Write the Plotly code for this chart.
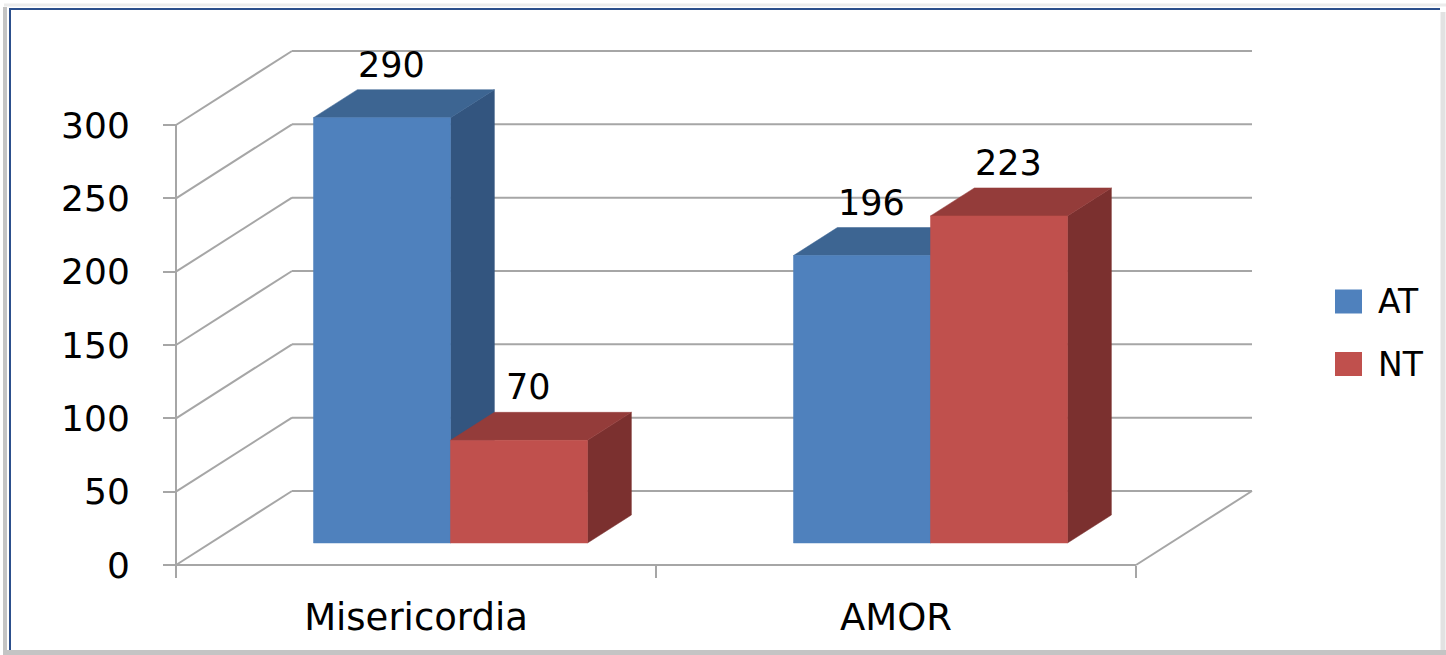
import plotly.graph_objects as go

# ---------------- data ----------------
categories = ["Misericordia", "AMOR"]
series_names = ["AT", "NT"]
values_at = [290, 196]
values_nt = [70, 223]
y_tick_values = [0, 50, 100, 150, 200, 250, 300]

# ---------------- styling / geometry ----------------
W, H = 1446, 655
S = 440 / 300            # px per value unit
ZERO_PX = 565            # screen y of value 0 on the front plane
X_FRONT = 176            # screen x of the front value axis
CAT_W = 480              # width of one category on the front plane
WALL_DX = 116            # horizontal depth offset of the walls (px)
WALL_DY = 74 / S         # vertical depth offset of the walls (value units)
D_FRONT = 22 / 74        # bar front plane depth (fraction)
D_BACK = 50 / 74         # bar back plane depth (fraction)
BAR_W = 137
LABEL_DX = 10
FONT = "DejaVu Sans"
GRID = "#a6a6a6"

FRONT = {"AT": "#4f81bd", "NT": "#c0504d"}
TOP = {"AT": "#3d6592", "NT": "#943c3a"}
SIDE = {"AT": "#33557f", "NT": "#7b302f"}

M_L, M_R = 160, W - 1272
M_T, M_B = 28, H - 582
PW, PH = W - M_L - M_R, H - M_T - M_B
x_range = [M_L, W - M_R]
y_range = [-(H - M_B - ZERO_PX) / S, (ZERO_PX - M_T) / S]


def px_x(px):
    return (px - M_L) / PW


def px_y(py):
    return (H - M_B - py) / PH


series_values = {"AT": values_at, "NT": values_nt}

fig = go.Figure()
annotations = []

ox = (D_BACK - D_FRONT) * WALL_DX
oy = (D_BACK - D_FRONT) * WALL_DY
base = D_FRONT * WALL_DY

for i, cat in enumerate(categories):
    cx = X_FRONT + i * CAT_W + CAT_W / 2 + D_FRONT * WALL_DX
    for j, name in enumerate(series_names):
        v = series_values[name][i]
        xl = cx - BAR_W + j * BAR_W
        xr = xl + BAR_W
        top = base + v
        faces = [
            ([xr, xr + ox, xr + ox, xr, xr], [base, base + oy, top + oy, top, base], SIDE[name]),
            ([xl, xr, xr + ox, xl + ox, xl], [top, top, top + oy, top + oy, top], TOP[name]),
            ([xl, xr, xr, xl, xl], [base, base, top, top, base], FRONT[name]),
        ]
        for fx, fy, col in faces:
            fig.add_trace(go.Scatter(
                x=fx, y=fy, mode="lines", fill="toself", fillcolor=col,
                line=dict(width=0.5, color=col), hoverinfo="skip",
                showlegend=False, name=name,
            ))
        annotations.append(dict(
            x=(xl + xr) / 2 + LABEL_DX, y=top + oy, xref="x", yref="y",
            text=str(v), showarrow=False, yanchor="middle", yshift=25,
            font=dict(family=FONT, size=35, color="black"),
        ))

# ---------------- walls / floor ----------------
shapes = []
x_right_front = X_FRONT + len(categories) * CAT_W
for t in y_tick_values:
    shapes.append(dict(type="line", xref="x", yref="y", layer="below",
                       x0=X_FRONT, y0=t, x1=X_FRONT + WALL_DX, y1=t + WALL_DY,
                       line=dict(color=GRID, width=2)))
    shapes.append(dict(type="line", xref="x", yref="y", layer="below",
                       x0=X_FRONT + WALL_DX, y0=t + WALL_DY,
                       x1=x_right_front + WALL_DX, y1=t + WALL_DY,
                       line=dict(color=GRID, width=2)))
shapes.append(dict(type="line", xref="x", yref="y", layer="below",
                   x0=X_FRONT, y0=0, x1=X_FRONT, y1=y_tick_values[-1],
                   line=dict(color=GRID, width=2)))
shapes.append(dict(type="line", xref="x", yref="y", layer="below",
                   x0=X_FRONT, y0=0, x1=x_right_front, y1=0,
                   line=dict(color=GRID, width=2)))
shapes.append(dict(type="line", xref="x", yref="y", layer="below",
                   x0=x_right_front, y0=0, x1=x_right_front + WALL_DX, y1=WALL_DY,
                   line=dict(color=GRID, width=2)))

# ---------------- outer frame ----------------
def pline(x0, y0, x1, y1, color, width):
    shapes.append(dict(type="line", xref="paper", yref="paper",
                       x0=px_x(x0), y0=px_y(y0), x1=px_x(x1), y1=px_y(y1),
                       line=dict(color=color, width=width)))

pline(5, 7, 5, H, "#c4c4c4", 4)
pline(4, 5, W, 5, "#ececec", 3)
pline(W - 3, 12, W - 3, H, "#e2e2e2", 5)
pline(4, H - 2.5, W, H - 2.5, "#c4c4c4", 5)
pline(10, 9, 10, H - 5, "#2c4f8c", 2)
pline(9, 9, W - 6, 9, "#2c4f8c", 2)

# ---------------- manual legend ----------------
legend_rows = [301.5, 364]
for name, cy in zip(series_names, legend_rows):
    shapes.append(dict(type="rect", xref="paper", yref="paper",
                       x0=px_x(1335), x1=px_x(1362), y0=px_y(cy - 12), y1=px_y(cy + 12),
                       fillcolor=FRONT[name], line=dict(width=0)))
    annotations.append(dict(x=px_x(1376), y=px_y(cy), xref="paper", yref="paper",
                            text=name, showarrow=False, xanchor="left", yanchor="middle",
                            font=dict(family=FONT, size=33, color="black")))

cat_centers = [X_FRONT + i * CAT_W + CAT_W / 2 for i in range(len(categories))]
cat_bounds = [X_FRONT + i * CAT_W for i in range(len(categories) + 1)]

fig.update_layout(
    width=W, height=H,
    margin=dict(l=M_L, r=M_R, t=M_T, b=M_B, pad=0),
    paper_bgcolor="white", plot_bgcolor="white",
    showlegend=False,
    shapes=shapes, annotations=annotations,
    xaxis=dict(
        range=x_range, showgrid=False, zeroline=False, showline=False,
        tickvals=cat_centers, ticktext=categories, ticks="",
        tickfont=dict(family=FONT, size=37, color="black"),
        ticklabelstandoff=27,
        anchor="free", position=(0 - y_range[0]) / (y_range[1] - y_range[0]),
        minor=dict(tickvals=cat_bounds, ticks="outside", ticklen=12,
                   tickwidth=2, tickcolor=GRID, showgrid=False),
        fixedrange=True,
    ),
    yaxis=dict(
        range=y_range, showgrid=False, zeroline=False, showline=False,
        tickvals=y_tick_values, ticks="outside", ticklen=13, tickwidth=2,
        tickcolor=GRID,
        tickfont=dict(family=FONT, size=36, color="black"),
        ticklabelstandoff=26,
        anchor="free", position=(X_FRONT - M_L) / PW,
        fixedrange=True,
    ),
)

fig.write_html("out.html", config={"displayModeBar": False},
               post_script="document.body.style.margin='0';")
